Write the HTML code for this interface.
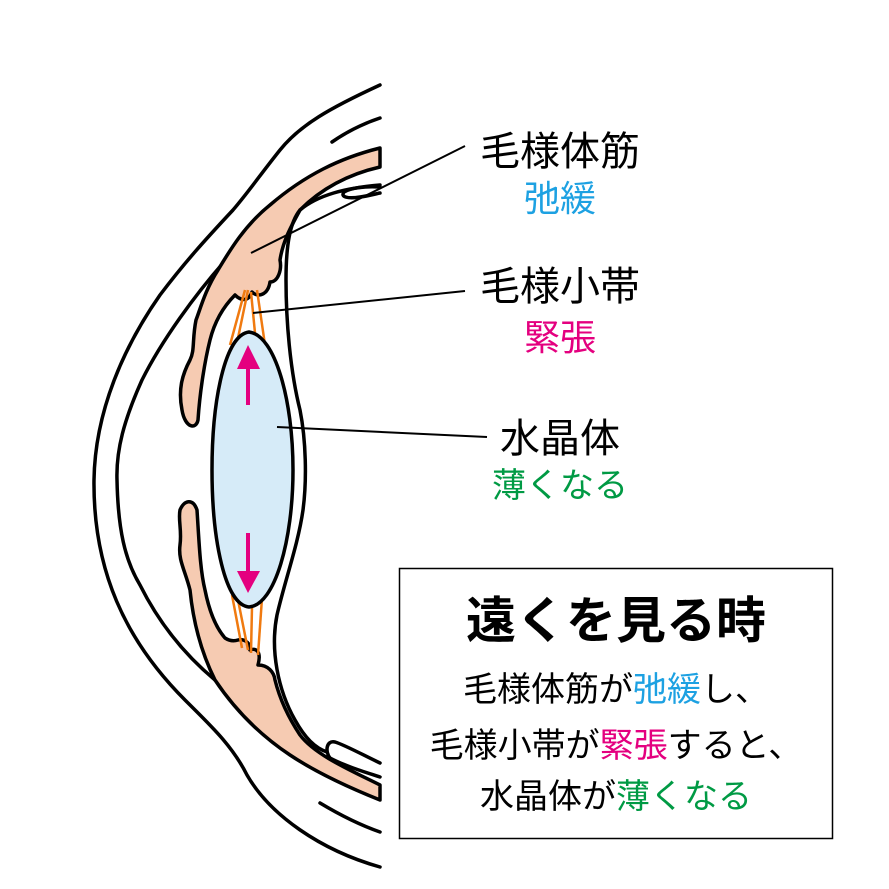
<!DOCTYPE html>
<html><head><meta charset="utf-8"><style>
html,body{margin:0;padding:0;background:#fff;}
svg{display:block;}
text{font-family:"Liberation Sans","Noto Sans CJK JP",sans-serif;}
</style></head><body>
<svg width="889" height="889" viewBox="0 0 889 889" xmlns="http://www.w3.org/2000/svg">
<g fill="none" stroke="#000" stroke-width="3.5" stroke-linecap="round" stroke-linejoin="round">
<!-- outer sclera line -->
<path d="M380,85 C330,108 300,125 280,150 C260,175 250,190 233,210 C205,240 185,262 160,295 C125,345 95,410 94,480 C93,570 125,640 185,700 C210,725 232,745 247,775 C270,815 320,850 380,867"/>
<!-- short lines -->
<path d="M332,142 C345,133 362,124 380,118"/>
<path d="M320,803 C340,815 360,825 380,832"/>
<!-- second line -->
<path d="M224,262 C195,295 162,340 142,380 C124,420 116,450 117,480 C118,530 125,560 140,585 C160,625 185,655 215,680"/>
</g>
<!-- pink ciliary body top -->
<path d="M380,148 C340,158 305,175 270,205 C245,225 230,250 218,270 C205,290 200,310 196,320 C192,340 195,350 190,360 C182,375 178,390 182,410 C185,428 196,430 198,420 C200,390 205,360 210,340 C215,320 225,305 235,295 C240,300 248,303 252,292 C258,298 268,295 270,282 C278,282 282,270 280,260 C283,240 292,225 300,210 C320,190 345,175 380,167 Z" fill="#f6cbb2" stroke="#000" stroke-width="3.5" stroke-linejoin="round"/>
<!-- pink ciliary body bottom -->
<path d="M380,800 C355,790 320,775 290,755 C260,735 235,710 215,680 C200,650 193,620 190,590 C185,570 178,560 180,545 C182,530 178,520 180,510 C184,500 193,498 197,510 C199,540 200,570 205,590 C210,615 218,630 225,638 C228,640 232,642 238,640 C245,638 252,645 250,650 C255,648 262,650 258,665 C268,665 274,672 275,680 C280,700 290,720 300,735 C315,755 350,770 380,785 Z" fill="#f6cbb2" stroke="#000" stroke-width="3.5" stroke-linejoin="round"/>
<!-- inner line -->
<g fill="none" stroke="#000" stroke-width="3.5" stroke-linecap="round" stroke-linejoin="round">
<path d="M380,185 C345,188 318,195 300,210 C290,222 286,245 286,280 C286,320 290,370 300,410 C306,440 307,480 303,510 C298,545 285,580 277,615 C270,650 278,690 295,720 C305,738 315,748 327,752"/>
<path d="M380,187 C365,186 350,188 344,192 C340,197 348,199 360,197 C368,196 375,194 380,193"/>
<path d="M380,763 C365,756 345,745 335,742 C326,740 325,752 330,758 C345,766 365,772 380,777"/>
</g>
<!-- zonules -->
<g stroke="#f07a10" stroke-width="2.5" fill="none">
<path d="M245,290 L230,345"/><path d="M248,290 L238,338"/><path d="M251,292 L255,333"/><path d="M257,290 L265,345"/>
<path d="M232,595 L242,648"/><path d="M238,600 L248,650"/><path d="M252,607 L251,653"/><path d="M262,598 L258,655"/>
</g>
<!-- lens -->
<path d="M249,332 C275,335 293,400 293,470 C293,540 275,605 249,607 C225,605 212,540 212,470 C212,400 225,335 249,332 Z" fill="#d6ebf8" stroke="#000" stroke-width="3.5"/>
<!-- arrows -->
<g fill="#e4007f" stroke="#e4007f">
<path d="M248,405 L248,358" stroke-width="4"/>
<path d="M237,369 L248,345 L260,369 Z" stroke="none"/>
<path d="M248,533 L248,578" stroke-width="4"/>
<path d="M237,571 L248,593 L260,571 Z" stroke="none"/>
</g>
<!-- leader lines -->
<g stroke="#000" stroke-width="2" fill="none">
<path d="M251,253 L465,146"/>
<path d="M253,313 L465,291"/>
<path d="M277,427 L487,437"/>
</g>
<!-- labels -->
<g text-anchor="middle">
<text x="560" y="165" font-size="40" fill="#000">毛様体筋</text>
<text x="560" y="211" font-size="36" fill="#1da1e2">弛緩</text>
<text x="560" y="300" font-size="40" fill="#000">毛様小帯</text>
<text x="560" y="350" font-size="36" fill="#e4007f">緊張</text>
<text x="560" y="452" font-size="40" fill="#000">水晶体</text>
<text x="560" y="497" font-size="34" fill="#009a44">薄くなる</text>
</g>
<!-- box -->
<rect x="399.5" y="568.5" width="433" height="270" fill="#fff" stroke="#000" stroke-width="1.5"/>
<g text-anchor="middle">
<text x="616" y="638" font-size="50" font-weight="bold" fill="#000">遠くを見る時</text>
<text x="616" y="701" font-size="34" fill="#000">毛様体筋が<tspan fill="#1da1e2">弛緩</tspan>し、</text>
<text x="616" y="757" font-size="34" fill="#000">毛様小帯が<tspan fill="#e4007f">緊張</tspan>すると、</text>
<text x="616" y="808" font-size="34" fill="#000">水晶体が<tspan fill="#009a44">薄くなる</tspan></text>
</g>
</svg>
</body></html>
